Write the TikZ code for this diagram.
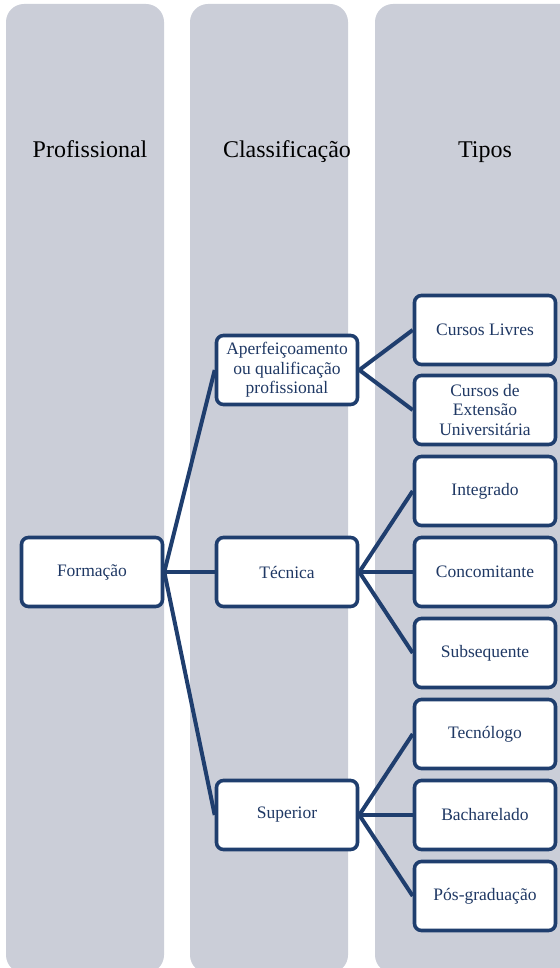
\documentclass[tikz,border=0pt]{standalone}
\usepackage{fontspec}
\setmainfont{Liberation Serif}
\usepackage{tikz}
\usepackage{xcolor}
\definecolor{navy}{RGB}{31,62,110}
\definecolor{navytext}{RGB}{31,56,100}
\definecolor{colbg}{RGB}{203,206,216}

\begin{document}
\begin{tikzpicture}[x=1pt,y=-1pt,
    box/.style={draw=navy,fill=white,line width=3.6pt,rounded corners=7pt,
        minimum width=141pt,minimum height=69pt,align=center,
        text=navytext,font=\fontsize{17.5}{19.5}\selectfont},
    head/.style={anchor=base,font=\fontsize{24}{28}\selectfont},
    link/.style={draw=navy,line width=4pt}]
            \useasboundingbox (0,0) rectangle (559,968);
            % columns
            \fill[colbg,rounded corners=18pt] (6,4) rectangle (164,973);
            \fill[colbg,rounded corners=18pt] (190,4) rectangle (348,973);
            \fill[colbg,rounded corners=18pt] (375,4) rectangle (600,973);
            \node[head] (hprof) at (90,158) {Profissional};
            \node[head] (hclass) at (287,158) {Classificação};
            \node[head] (htipos) at (485,158) {Tipos};
            % nodes
            \node[box] (form) at (92,572) {Formação};
            \node[box] (aperf) at (287,370) {Aperfeiçoamento\\ou qualificação\\profissional};
            \node[box] (tec) at (287,572) {Técnica};
            \node[box] (sup) at (287,815) {Superior};
            \node[box] (livres) at (485,330) {Cursos Livres};
            \node[box] (ext) at (485,410) {Cursos de\\Extensão\\Universitária};
            \node[box] (integ) at (485,491) {Integrado};
            \node[box] (conc) at (485,572) {Concomitante};
            \node[box] (subs) at (485,653) {Subsequente};
            \node[box] (tecn) at (485,734) {Tecnólogo};
            \node[box] (bach) at (485,815) {Bacharelado};
            \node[box] (pos) at (485,896) {Pós-graduação};
            % links
            \draw[link] (form.east)--(aperf.west);
            \draw[link] (form.east)--(tec.west);
            \draw[link] (form.east)--(sup.west);
            \draw[link] (aperf.east)--(livres.west);
            \draw[link] (aperf.east)--(ext.west);
            \draw[link] (tec.east)--(integ.west);
            \draw[link] (tec.east)--(conc.west);
            \draw[link] (tec.east)--(subs.west);
            \draw[link] (sup.east)--(tecn.west);
            \draw[link] (sup.east)--(bach.west);
            \draw[link] (sup.east)--(pos.west);
        \end{tikzpicture}
\end{document}
